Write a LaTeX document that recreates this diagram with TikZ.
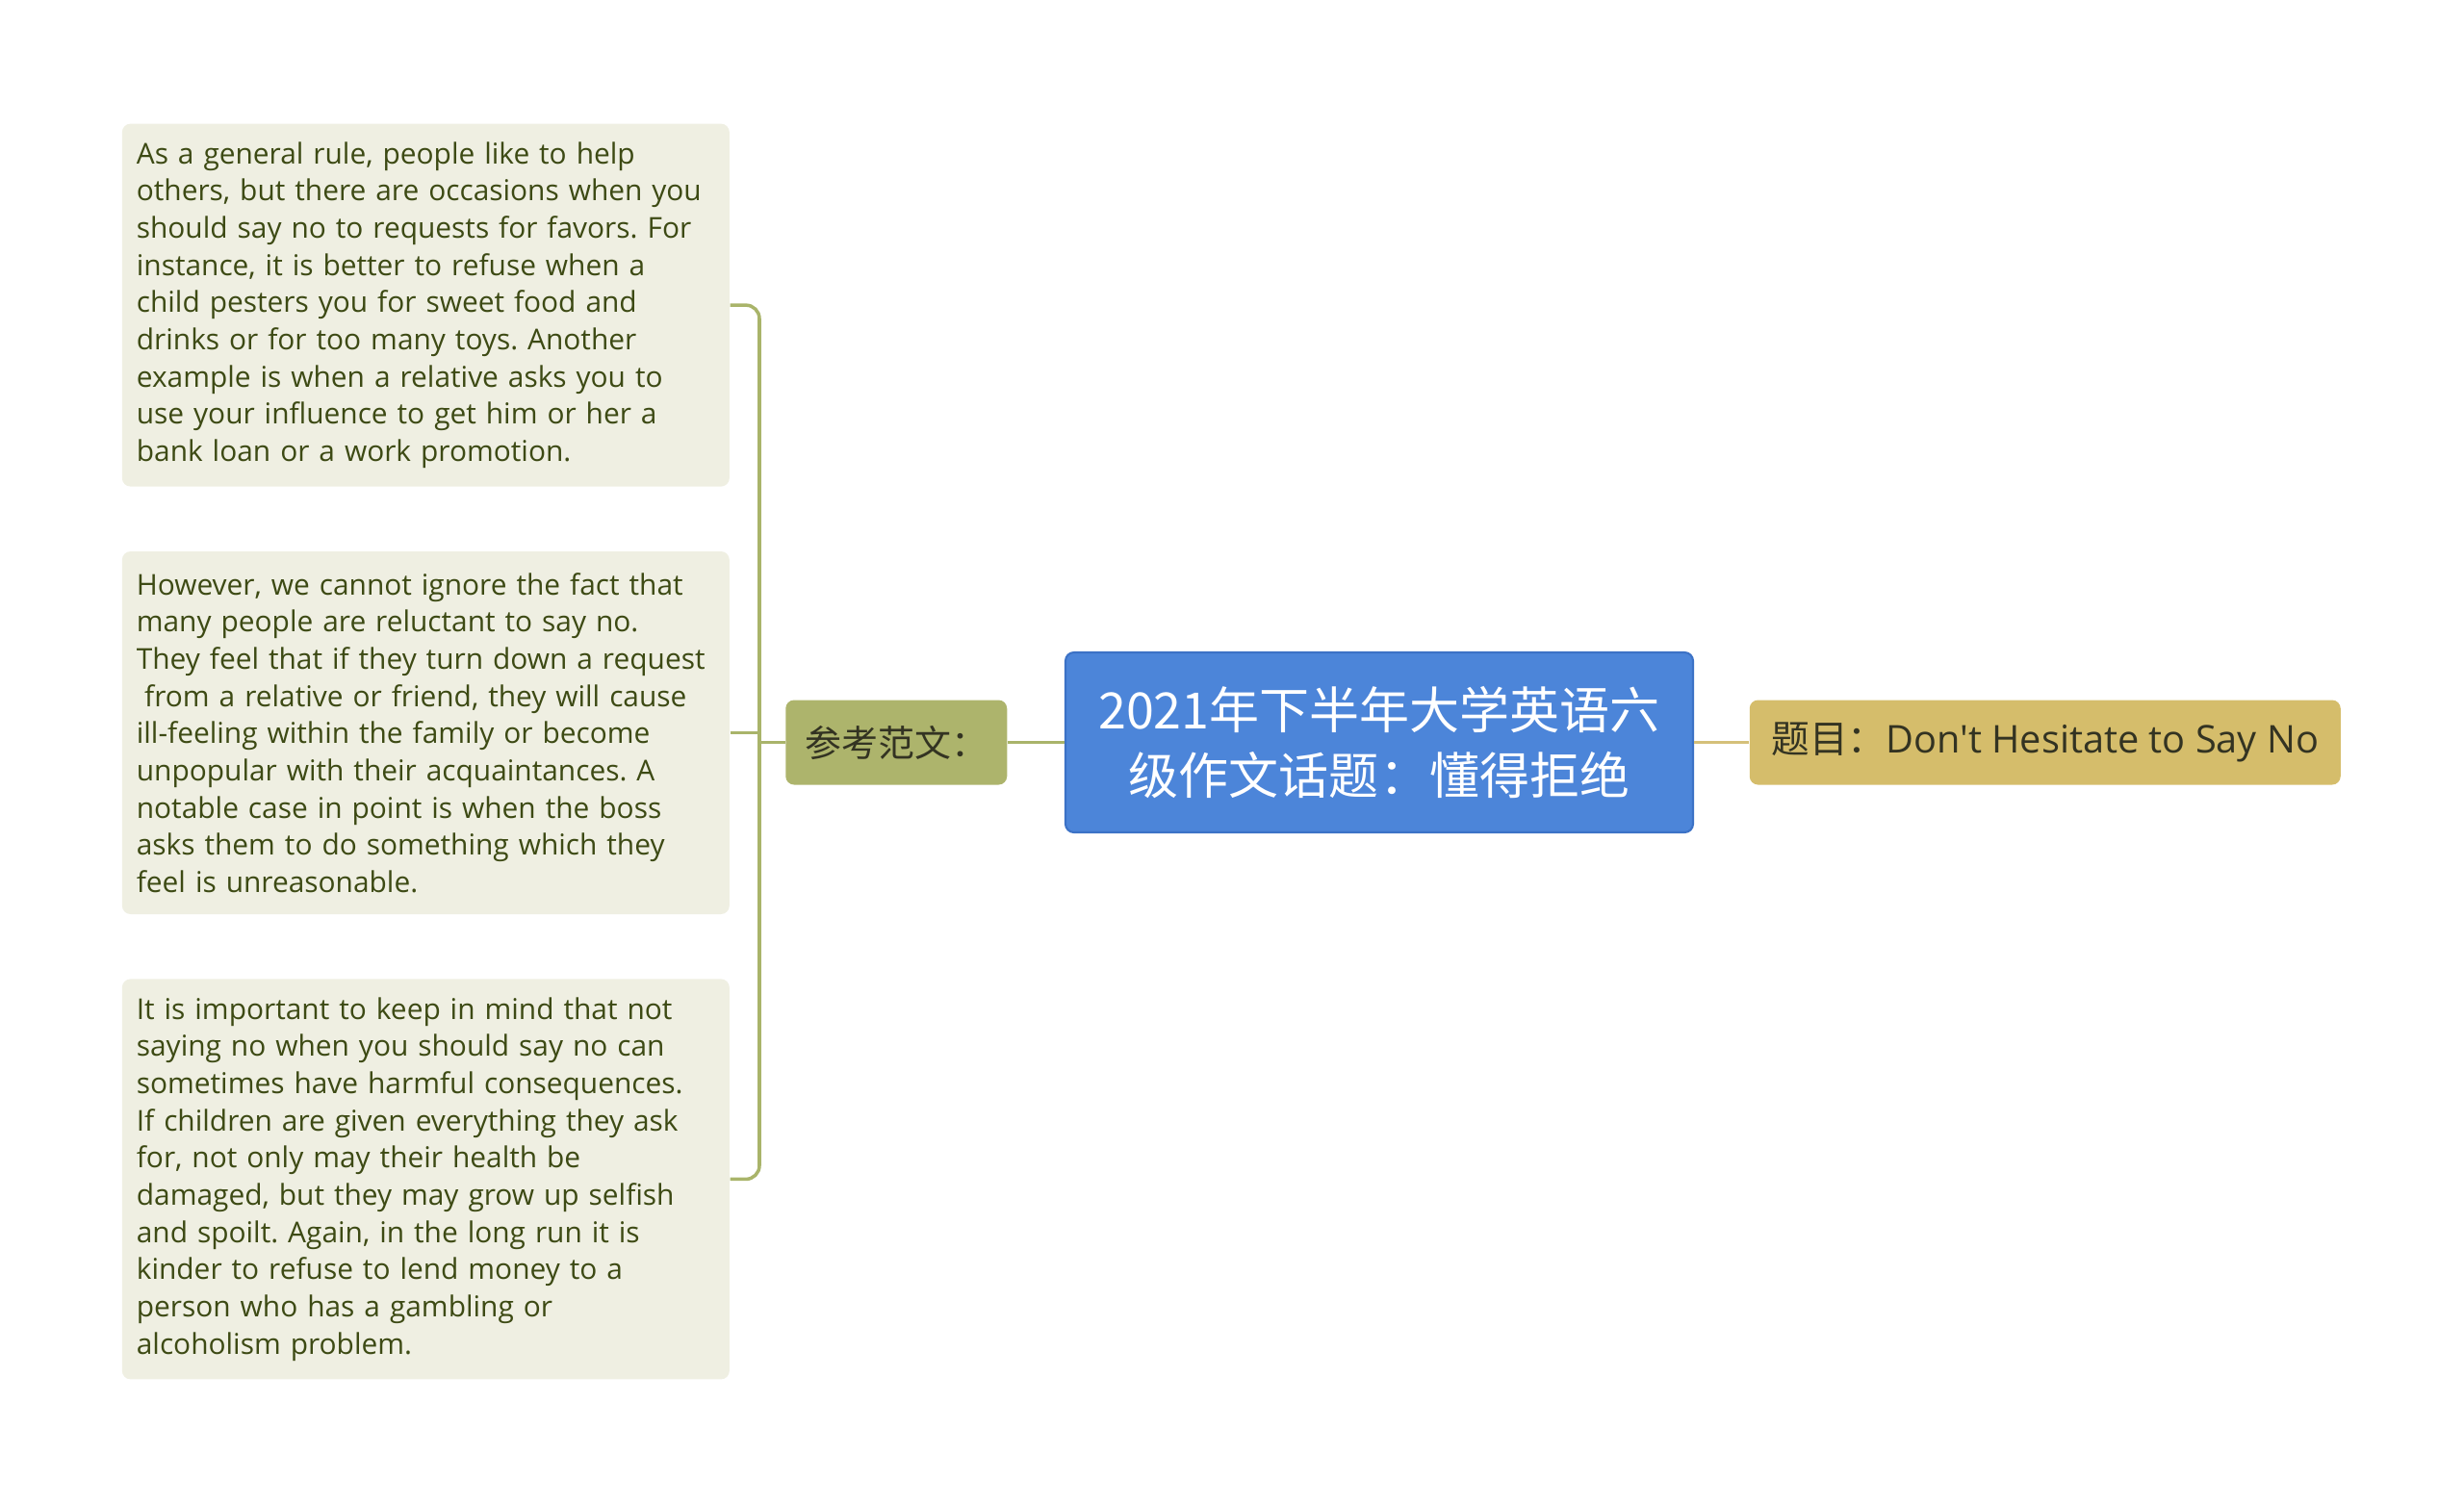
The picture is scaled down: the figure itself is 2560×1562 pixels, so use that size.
\documentclass[tikz,border=0pt]{standalone}
\usepackage{fontspec}
\setmainfont{Open Sans}
\newfontfamily\cjk{Noto Sans CJK SC}
\newfontfamily\titlefont{Open Sans}[Ligatures=TeXOff]
\usetikzlibrary{positioning}

\definecolor{paperfill}{HTML}{EFEFE2}
\definecolor{papertext}{HTML}{3D4A14}
\definecolor{olivelink}{HTML}{A9B46A}
\definecolor{olivefill}{HTML}{ADB46C}
\definecolor{rootfill}{HTML}{4C85D9}
\definecolor{rootdraw}{HTML}{3C72C6}
\definecolor{goldfill}{HTML}{D5BD6B}
\definecolor{goldlink}{HTML}{D5C07A}
\definecolor{nodetext}{HTML}{333322}

\begin{document}
\frenchspacing
\begin{tikzpicture}[
    x=0.1mm, y=-0.1mm,
    every node/.style={inner sep=0pt},
    para/.style={fill=paperfill, rounded corners=2.5pt, text=papertext, text width=6.01cm,
      minimum width=6.31cm, align=left, font=\fontsize{8.5}{11}\selectfont},
    branch/.style={fill=olivefill, rounded corners=2.5pt, text=nodetext, minimum width=2.3cm,
      minimum height=0.88cm, font=\cjk\fontsize{10.8}{13}\selectfont},
    root/.style={fill=rootfill, draw=rootdraw, line width=0.6pt, rounded corners=2.5pt, text=white,
      minimum width=6.52cm, minimum height=1.87cm, align=center, font=\cjk\fontsize{14.8}{19.6}\selectfont},
    title/.style={fill=goldfill, rounded corners=2.5pt, text=nodetext, minimum width=6.14cm,
      minimum height=0.88cm, font=\titlefont\fontsize{11.3}{13}\selectfont},
    link/.style={draw=olivelink, line width=1pt}
  ]
    \useasboundingbox (0,0) rectangle (2560,1562);

    % 中心
    \node[root] (root) at (1433,771.5) {2021年下半年大学英语六\\级作文话题：懂得拒绝};
    \node[title, right=0.57cm of root] (topic) {{\cjk 题目：}Don't Hesitate to Say No};
    \node[branch, left=0.59cm of root] (sample) {参考范文：};

    % 本文
    \node[para, left=0.57cm of sample, yshift=1mm, minimum height=3.77cm] (par2)
      {However, we cannot ignore the fact that\\
       many people are reluctant to say no.\\
       They feel that if they turn down a request\\
       \hspace*{0.28em}from a relative or friend, they will cause\\
       ill-feeling within the family or become\\
       unpopular with their acquaintances. A\\
       notable case in point is when the boss\\
       asks them to do something which they\\
       feel is unreasonable.};
    \node[para, above=0.66cm of par2, minimum height=3.77cm] (par1)
      {As a general rule, people like to help\\
       others, but there are occasions when you\\
       should say no to requests for favors. For\\
       instance, it is better to refuse when a\\
       child pesters you for sweet food and\\
       drinks or for too many toys. Another\\
       example is when a relative asks you to\\
       use your influence to get him or her a\\
       bank loan or a work promotion.};
    \node[para, below=0.66cm of par2, minimum height=4.16cm] (par3)
      {It is important to keep in mind that not\\
       saying no when you should say no can\\
       sometimes have harmful consequences.\\
       If children are given everything they ask\\
       for, not only may their health be\\
       damaged, but they may grow up selfish\\
       and spoilt. Again, in the long run it is\\
       kinder to refuse to lend money to a\\
       person who has a gambling or\\
       alcoholism problem.};

    % 接続線
    \coordinate (bus) at (789,771.5);
    \draw[link, rounded corners=4pt] (par1.east) -| (bus) |- (par3.east);
    \draw[link] (par2.east) -- (par2.east -| bus);
    \draw[link] (bus) -- (sample.west);
    \draw[link] (sample) -- (root);
    \draw[draw=goldlink, line width=1pt] (root) -- (topic);
  \end{tikzpicture}
\end{document}
